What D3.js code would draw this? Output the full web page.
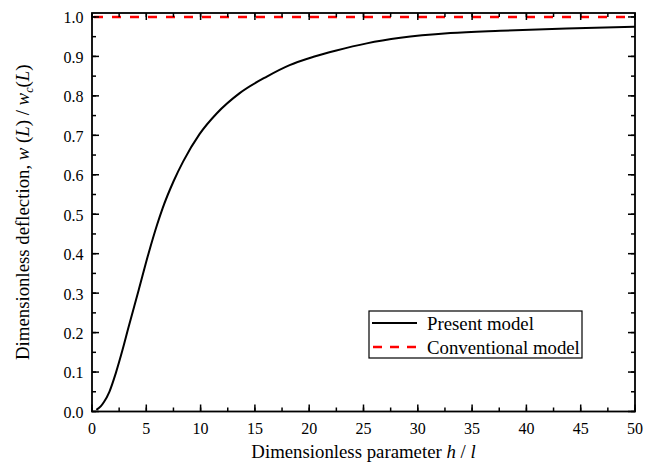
<!DOCTYPE html>
<html>
<head>
<meta charset="utf-8">
<script src="https://cdn.jsdelivr.net/npm/d3@7"></script>
<style>
html,body{margin:0;padding:0;background:#fff;}
svg{display:block;}
text{font-family:"Liberation Serif","Times New Roman",serif;fill:#000;}
</style>
</head>
<body>
<svg id="chart" width="659" height="476"></svg>
<script>
// Data
const hOverL = [0.4, 0.8, 1.1, 1.6, 2.2, 2.8, 3.35, 4.3, 5.2, 6.0, 6.5, 7.5, 8.4, 9.9, 11.5, 13.6, 16.1, 18.2, 20.4, 22.5, 25.3, 28.4, 33, 37.6, 43.7, 50];
const presentModel = [0.004, 0.013, 0.024, 0.050, 0.098, 0.155, 0.212, 0.308, 0.400, 0.474, 0.515, 0.583, 0.634, 0.703, 0.756, 0.807, 0.849, 0.878, 0.899, 0.915, 0.933, 0.947, 0.959, 0.965, 0.971, 0.975];
const conventionalX = [0, 50];
const conventionalModel = [1.0, 1.0];
const xTicks = [0, 5, 10, 15, 20, 25, 30, 35, 40, 45, 50];
const yTicks = [0.0, 0.1, 0.2, 0.3, 0.4, 0.5, 0.6, 0.7, 0.8, 0.9, 1.0];
const seriesNames = ["Present model", "Conventional model"];

(function () {
const svg = d3.select("#chart");
const pL = 92, pR = 635, pT = 13, pB = 411.5;
const x = d3.scaleLinear().domain([0, 50]).range([pL, pR]);
const y = d3.scaleLinear().domain([0, 1.01]).range([pB, pT]);

const xMinor = d3.range(0, 50.01, 2.5);
const yMinor = d3.range(0, 1.001, 0.05);

const g = svg.append("g");

const line = d3.line().x(d => x(d[0])).y(d => y(d[1])).curve(d3.curveMonotoneX);

g.append("path")
  .datum(hOverL.map((h, i) => [h, presentModel[i]]))
  .attr("d", line).attr("fill", "none").attr("stroke", "#000").attr("stroke-width", 2);

g.append("path")
  .datum(conventionalX.map((h, i) => [h, conventionalModel[i]]))
  .attr("d", d3.line().x(d => x(d[0])).y(d => y(d[1])))
  .attr("fill", "none").attr("stroke", "#ff0000").attr("stroke-width", 2.5)
  .attr("stroke-dasharray", "9,9").attr("stroke-dashoffset", -2);

// ticks
const tk = svg.append("g").attr("stroke", "#000").attr("stroke-width", 1.5);
function xt(vals, len) {
  vals.forEach(v => {
    tk.append("line").attr("x1", x(v)).attr("x2", x(v)).attr("y1", pB).attr("y2", pB - len);
    tk.append("line").attr("x1", x(v)).attr("x2", x(v)).attr("y1", pT).attr("y2", pT + len);
  });
}
function yt(vals, len) {
  vals.forEach(v => {
    tk.append("line").attr("y1", y(v)).attr("y2", y(v)).attr("x1", pL).attr("x2", pL + len);
    tk.append("line").attr("y1", y(v)).attr("y2", y(v)).attr("x1", pR).attr("x2", pR - len);
  });
}
xt(xMinor, 4); xt(xTicks, 7);
yt(yMinor, 4); yt(yTicks, 7);

// frame
svg.append("rect").attr("x", pL).attr("y", pT).attr("width", pR - pL).attr("height", pB - pT)
  .attr("fill", "none").attr("stroke", "#000").attr("stroke-width", 1.8);

// tick labels
const fsT = 16, fs = 18.8;
svg.append("g").selectAll("text").data(xTicks).join("text")
  .attr("x", d => x(d)).attr("y", pB + 22).attr("text-anchor", "middle")
  .attr("font-size", fsT).text(d3.format("d"));
svg.append("g").selectAll("text").data(yTicks).join("text")
  .attr("x", pL - 8.5).attr("y", d => y(d) + 6.4).attr("text-anchor", "end")
  .attr("font-size", fsT).text(d3.format(".1f"));

// axis titles
const xt2 = svg.append("text").attr("x", (pL + pR) / 2).attr("y", 457.5).attr("text-anchor", "middle").attr("font-size", fs);
xt2.append("tspan").text("Dimensionless parameter ");
xt2.append("tspan").attr("font-style", "italic").text("h");
xt2.append("tspan").text(" / ");
xt2.append("tspan").attr("font-style", "italic").text("l");

const yt2 = svg.append("text").attr("transform", `translate(29,${(pT + pB) / 2}) rotate(-90)`)
  .attr("text-anchor", "middle").attr("font-size", fs);
yt2.append("tspan").text("Dimensionless deflection, ");
yt2.append("tspan").attr("font-style", "italic").text("w");
yt2.append("tspan").text(" (");
yt2.append("tspan").attr("font-style", "italic").text("L");
yt2.append("tspan").text(") / ");
yt2.append("tspan").attr("font-style", "italic").text("w");
yt2.append("tspan").attr("font-style", "italic").attr("font-size", 12).attr("dy", 4).text("c");
yt2.append("tspan").attr("dy", -4).text("(");
yt2.append("tspan").attr("font-style", "italic").text("L");
yt2.append("tspan").text(")");

// legend
const lg = svg.append("g");
lg.append("rect").attr("x", 369).attr("y", 311).attr("width", 213).attr("height", 47)
  .attr("fill", "#fff").attr("stroke", "#000").attr("stroke-width", 1.2);
const rowsY = [323, 347];
lg.append("line").attr("x1", 372).attr("x2", 417).attr("y1", rowsY[0]).attr("y2", rowsY[0])
  .attr("stroke", "#000").attr("stroke-width", 2);
lg.append("line").attr("x1", 373).attr("x2", 417).attr("y1", rowsY[1]).attr("y2", rowsY[1])
  .attr("stroke", "#ff0000").attr("stroke-width", 2.5).attr("stroke-dasharray", "9,8");
seriesNames.forEach((n, i) => {
  lg.append("text").attr("x", 427).attr("y", rowsY[i] + 6.5).attr("font-size", fs).text(n);
});
})();
</script>
</body>
</html>
